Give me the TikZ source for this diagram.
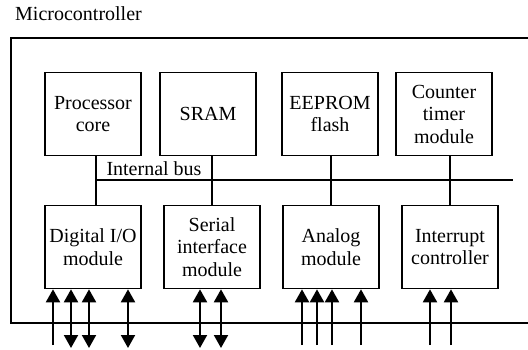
\documentclass[tikz,border=0pt]{standalone}
\usepackage{fontspec}
\setmainfont{Liberation Serif}
\usetikzlibrary{arrows.meta}

\begin{document}
\begin{tikzpicture}[
  x=1pt,y=-1pt,
  font=\fontsize{20}{22.5}\selectfont,
  block/.style={
    draw,
    line width=1.6pt,
    align=center,
    inner sep=0pt,
    minimum width=96pt,
    minimum height=83pt
  },
  link/.style={draw=black,line width=2pt},
  inarrow/.style={link,-{Triangle[length=13pt,width=14pt]}},
  ioarrow/.style={link,{Triangle[length=13pt,width=14pt]}-{Triangle[length=13pt,width=14pt]}}
]
  \useasboundingbox (0,0) rectangle (528,350);

  \node[anchor=base west,inner sep=0pt] (title) at (15,21) {Microcontroller};
  \coordinate (frameT) at (528,38);
  \coordinate (frameB) at (528,323);
  \draw[link,line width=2.3pt] (frameT) -| (11,323) -- (frameB);

  \node[block] (proc) at (93,114) {Processor\\core};
  \node[block] (sram) at (208,114) {SRAM};
  \node[block] (eeprom) at (330,114) {EEPROM\\flash};
  \node[block] (ctr) at (444,114) {Counter\\timer\\module};

  \node[block] (dio) at (93,247) {Digital I/O\\module};
  \node[block] (sio) at (212,247) {Serial\\interface\\module};
  \node[block] (ana) at (331,247) {Analog\\module};
  \node[block] (irq) at (450,247) {Interrupt\\controller};

  \draw[link] ([xshift=3pt]proc.south) -- ([xshift=3pt]dio.north);
  \draw[link] (sio.north |- sram.south) -- (sio.north);
  \draw[link] (ana.north |- eeprom.south) -- (ana.north);
  \draw[link] (irq.north |- ctr.south) -- (irq.north);

  \coordinate (busL) at (96,180);
  \coordinate (busR) at (513,180);
  \draw[link] (busL) -- (busR);
  \node[anchor=base,inner sep=0pt] (bus) at (154,176) {Internal bus};

  \foreach \x/\blk in {53/dio,302/ana,317/ana,332/ana,361/ana,430/irq,451/irq}{
    \coordinate (in\x) at (\x,345);
    \draw[inarrow] (in\x) -- (in\x |- \blk.south);
  }
  \foreach \x/\blk in {71/dio,89/dio,128/dio,200/sio,221/sio}{
    \coordinate (io\x) at (\x,348);
    \draw[ioarrow] (io\x) -- (io\x |- \blk.south);
  }
\end{tikzpicture}
\end{document}
